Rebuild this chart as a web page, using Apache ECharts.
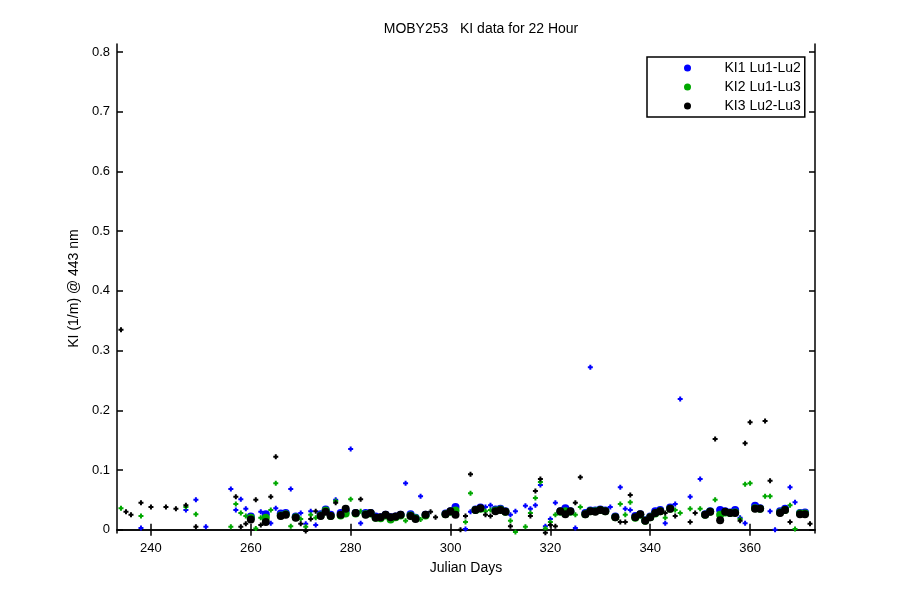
<!DOCTYPE html>
<html>
<head>
<meta charset="utf-8">
<script src="https://cdn.jsdelivr.net/npm/echarts@6/dist/echarts.min.js"></script>
<style>
html,body{margin:0;padding:0;background:#fff;}
#chart{width:900px;height:600px;}
</style>
</head>
<body>
<div id="chart"></div>
<script>
// Julian day of each observation
const days = [234,235,236,238,240,243,245,247,249,251,256,257,258,259,260,261,262,263,264,265,
  266,267,268,269,270,271,272,273,274,275,276,277,278,279,280,281,282,283,284,285,
  286,287,288,289,290,291,292,293,294,295,296,297,299,300,301,302,303,304,305,306,
  307,308,309,310,311,312,313,315,316,317,318,319,320,321,322,323,324,325,326,327,
  328,328,329,330,331,332,333,334,335,336,337,338,339,340,341,342,343,344,345,346,
  348,349,350,351,352,353,354,355,356,357,358,359,360,361,362,363,364,365,366,367,
  368,369,370,371,372];
// 1 = drawn with large dot marker, 0 = small marker
const bigFlag = [0,0,0,0,0,0,0,0,0,0,0,0,0,0,1,0,0,1,0,0,
  1,1,0,1,0,0,0,0,1,1,1,0,1,1,0,1,0,1,1,1,
  1,1,1,1,1,0,1,1,0,1,0,0,1,1,1,0,0,0,1,1,
  0,0,1,1,1,0,0,0,0,0,0,0,0,0,1,1,1,0,0,1,
  0,1,1,1,1,0,1,0,0,0,1,1,1,1,1,1,0,1,0,0,
  0,0,0,1,1,0,1,1,1,1,0,0,0,1,1,0,0,0,1,1,
  0,0,1,1,0];
const ki1 = [null,null,null,0.003,null,null,null,0.033,0.050,0.005,0.068,0.033,0.051,0.035,0.022,null,0.030,0.026,0.011,0.036,
  0.027,0.028,0.068,0.022,0.028,0.010,0.031,0.008,0.026,0.034,0.025,0.050,0.028,0.032,0.135,0.028,0.011,0.028,0.028,0.022,
  0.021,0.025,0.021,0.022,0.025,0.078,0.026,0.020,0.056,0.025,null,null,0.027,0.031,0.038,null,0.001,0.030,0.034,0.037,
  0.038,0.041,0.034,0.035,0.031,0.025,0.031,0.040,0.035,0.041,0.075,0.006,0.018,0.045,0.031,0.036,0.031,0.003,null,0.028,
  0.272,0.032,0.032,0.034,0.032,0.038,0.022,0.071,0.035,0.033,0.023,0.026,0.016,0.022,0.031,0.033,0.011,0.037,0.043,0.219,
  0.055,null,0.085,0.026,0.031,null,0.033,0.031,0.029,0.033,0.020,0.011,null,0.040,0.036,null,0.031,0.000,0.031,0.035,
  0.071,0.046,0.028,0.029,null];
const ki2 = [0.036,null,null,0.023,null,null,null,0.038,0.026,null,0.005,0.043,0.028,0.023,0.020,0.002,0.020,0.020,0.033,0.078,
  0.024,0.026,0.006,0.021,0.018,0.005,0.025,0.020,0.024,0.032,0.023,0.048,0.024,0.027,0.051,0.027,0.031,0.026,0.027,0.020,
  0.019,0.024,0.017,0.021,0.024,0.015,0.024,0.019,0.017,0.024,null,null,0.026,0.030,0.032,null,0.013,0.061,0.033,0.035,
  0.031,0.033,0.032,0.034,0.030,0.015,-0.004,0.005,0.028,0.053,0.080,0.002,0.013,0.025,0.030,0.031,0.030,0.025,0.038,0.026,
  null,0.031,0.031,0.033,0.031,null,0.021,0.043,0.025,0.046,0.020,0.025,0.015,0.021,0.027,0.031,0.020,0.035,0.033,0.028,
  0.035,null,0.035,0.025,0.030,0.050,0.025,0.029,0.028,0.029,0.018,0.076,0.078,0.036,0.035,0.056,0.056,null,0.029,0.033,
  0.041,0.001,0.027,0.027,null];
const ki3 = [0.335,0.030,0.025,0.045,0.038,0.038,0.035,0.041,0.005,null,null,0.055,0.005,0.010,0.017,0.050,0.008,0.013,0.055,0.122,
  0.023,0.025,null,0.020,0.010,-0.002,0.018,0.031,0.023,0.030,0.023,0.045,0.025,0.035,null,0.028,0.051,0.025,0.028,0.020,
  0.021,0.025,0.021,0.022,0.025,null,0.023,0.018,null,0.025,0.030,0.021,0.026,0.031,0.025,0.000,0.023,0.093,0.033,0.036,
  0.025,0.023,0.031,0.033,0.030,0.006,null,null,0.023,0.065,0.085,-0.005,0.008,0.006,0.031,0.026,0.031,0.045,0.088,0.026,
  null,0.031,0.030,0.033,0.031,null,0.021,0.013,0.013,0.058,0.021,0.026,0.015,0.021,0.028,0.031,0.028,0.035,0.023,null,
  0.013,0.028,null,0.025,0.030,0.152,0.016,0.030,0.028,0.028,0.015,0.145,0.180,0.035,0.035,0.182,0.082,null,0.028,0.033,
  0.013,null,0.026,0.026,0.010];

const seriesNames = ['KI1 Lu1-Lu2','KI2 Lu1-Lu3','KI3 Lu2-Lu3'];
const seriesColors = ['#0000ff','#00a800','#000000'];
const xTicks = [240,260,280,300,320,340,360];
const yTicks = [0,0.1,0.2,0.3,0.4,0.5,0.6,0.7,0.8];

const allVals = [ki1, ki2, ki3];
const plusPath = 'path://M1.5,0H3.5V1.5H5V3.5H3.5V5H1.5V3.5H0V1.5H1.5Z';

function pick(vals, big) {
  const out = [];
  for (let i = 0; i < days.length; i++) {
    if (bigFlag[i] === big && vals[i] !== null) out.push([days[i], vals[i]]);
  }
  return out;
}

const series = [];
for (let s = 0; s < 3; s++) {
  series.push({
    name: seriesNames[s], type: 'scatter', symbol: plusPath, symbolSize: 5,
    itemStyle: {color: seriesColors[s], opacity: 1}, data: pick(allVals[s], 0), z: 2 + s
  });
}
for (let s = 0; s < 3; s++) {
  series.push({
    name: seriesNames[s], type: 'scatter', symbol: 'circle', symbolSize: 8,
    itemStyle: {color: seriesColors[s], opacity: 1}, data: pick(allVals[s], 1), z: 5 + s
  });
}

const X_MIN = 233.2, X_MAX = 373.0, Y_MIN = -0.0055, Y_MAX = 0.8134;
const axisFont = {fontFamily: 'Liberation Sans, Arial, sans-serif', fontSize: 13, color: '#000'};
const lineStyle = {color: '#000', width: 1.5};

const chart = echarts.init(document.getElementById('chart'));
chart.setOption({
  animation: false,
  backgroundColor: '#fff',
  textStyle: {fontFamily: 'Liberation Sans, Arial, sans-serif'},
  grid: {left: 117, right: 85, top: 44, bottom: 67},
  legend: {
    data: seriesNames.map(n => ({name: n, icon: 'circle', itemStyle: {color: seriesColors[seriesNames.indexOf(n)], opacity: 1}})),
    orient: 'vertical', left: 647, top: 57,
    itemWidth: 64, itemHeight: 7, itemGap: 5,
    padding: [4, 4, 4, 37],
    borderColor: '#000', borderWidth: 1.5, backgroundColor: '#fff',
    textStyle: {fontSize: 14, color: '#000', lineHeight: 14, fontFamily: 'Liberation Sans, Arial, sans-serif'},
    selectedMode: false
  },
  xAxis: [{
    type: 'value', min: X_MIN, max: X_MAX, position: 'bottom',
    name: 'Julian Days', nameLocation: 'middle', nameGap: 28,
    nameTextStyle: {fontSize: 14, color: '#000'},
    axisLine: {show: true, lineStyle: lineStyle},
    axisTick: {show: true, inside: true, length: 6, lineStyle: lineStyle, customValues: xTicks},
    axisLabel: {show: true, margin: 9, customValues: xTicks, ...axisFont},
    splitLine: {show: false}
  }, {
    type: 'value', min: X_MIN, max: X_MAX, position: 'top',
    axisLine: {show: true, lineStyle: lineStyle},
    axisTick: {show: true, inside: true, length: 6, lineStyle: lineStyle, customValues: xTicks},
    axisLabel: {show: false}, splitLine: {show: false}
  }],
  yAxis: [{
    type: 'value', min: Y_MIN, max: Y_MAX, position: 'left',
    name: 'KI (1/m) @ 443 nm', nameLocation: 'middle', nameGap: 35,
    nameTextStyle: {fontSize: 14, color: '#000'},
    axisLine: {show: true, lineStyle: lineStyle},
    axisTick: {show: true, inside: true, length: 6, lineStyle: lineStyle, customValues: yTicks},
    axisLabel: {show: true, margin: 7, customValues: yTicks, formatter: v => String(Math.round(v*10)/10), ...axisFont},
    splitLine: {show: false}
  }, {
    type: 'value', min: Y_MIN, max: Y_MAX, position: 'right',
    axisLine: {show: true, lineStyle: lineStyle},
    axisTick: {show: true, inside: true, length: 6, lineStyle: lineStyle, customValues: yTicks},
    axisLabel: {show: false}, splitLine: {show: false}
  }],
  graphic: [{
    type: 'text', x: 481, y: 29,
    style: {text: 'MOBY253   KI data for 22 Hour', fontSize: 14, fill: '#000',
      textAlign: 'center', textVerticalAlign: 'middle', fontFamily: 'Liberation Sans, Arial, sans-serif'}
  }],
  series: series
});
</script>
</body>
</html>
